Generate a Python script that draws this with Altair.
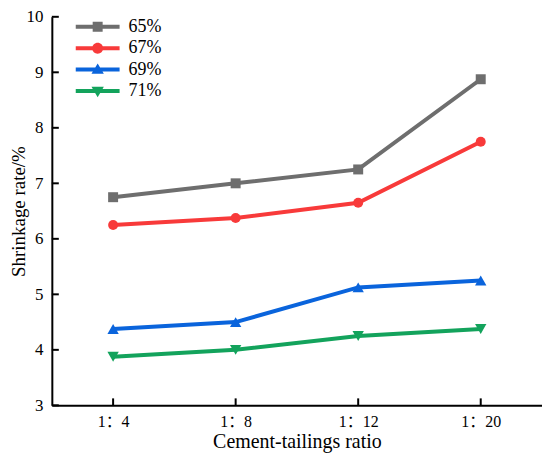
import altair as alt
import pandas as pd

ratios = ["1：4", "1：8", "1：12", "1：20"]
series = ["65%", "67%", "69%", "71%"]
v65 = [6.75, 7.0, 7.25, 8.875]
v67 = [6.25, 6.375, 6.65, 7.75]
v69 = [4.375, 4.5, 5.125, 5.25]
v71 = [3.875, 4.0, 4.25, 4.375]
y_ticks = [3, 4, 5, 6, 7, 8, 9, 10]

colors = ["#6e6e6e", "#f83a3a", "#0a64dc", "#13a35c"]
shapes = ["square", "circle", "triangle-up", "triangle-down"]

bar = "M-2.2,-0.2H2.2V0.2H-2.2Z "
legend_paths = [
    bar + "M-0.5,-0.5H0.5V0.5H-0.5Z",
    bar + "M-0.55,0A0.55,0.55 0 1,1 0.55,0A0.55,0.55 0 1,1 -0.55,0Z",
    bar + "M0,-0.62L0.62,0.42L-0.62,0.42Z",
    bar + "M0,0.62L-0.62,-0.42L0.62,-0.42Z",
]

rows = []
for name, vals in zip(series, [v65, v67, v69, v71]):
    for r, v in zip(ratios, vals):
        rows.append({"ratio": r, "series": name, "value": v})
df = pd.DataFrame(rows)
ticks_df = pd.DataFrame({"t": y_ticks})
cat_df = pd.DataFrame({"ratio": ratios})

FONT = "Liberation Serif, Times New Roman, Noto Sans CJK SC, serif"
W, H = 492, 390

x_enc = alt.X(
    "ratio:N",
    sort=ratios,
    scale=alt.Scale(type="point", padding=0.5, domain=ratios),
    axis=alt.Axis(
        title="Cement-tailings ratio",
        ticks=False,
        grid=False,
        domainColor="black",
        domainWidth=2,
        labelFont=FONT,
        labelFontSize=16,
        labelColor="black",
        labelPadding=8,
        titleFont=FONT,
        titleFontSize=20,
        titleFontWeight="normal",
        titleColor="black",
        titlePadding=2,
        labelAngle=0,
    ),
)
y_scale = alt.Scale(domain=[3, 10], nice=False, zero=False)
y_enc = alt.Y(
    "value:Q",
    scale=y_scale,
    axis=alt.Axis(
        title="Shrinkage rate/%",
        values=y_ticks,
        format="d",
        ticks=False,
        grid=False,
        domainColor="black",
        domainWidth=2,
        labelFont=FONT,
        labelFontSize=17,
        labelColor="black",
        labelPadding=9,
        titleFont=FONT,
        titleFontSize=19,
        titleFontWeight="normal",
        titleColor="black",
        titleX=-23,
    ),
)

line_layers = []
point_layers = []
for name, shp, col in zip(series, shapes, colors):
    sz = 100 if shp in ("square", "circle") else 130
    line_layers.append(
        alt.Chart(df)
        .transform_filter(alt.datum.series == name)
        .mark_line(strokeWidth=4, color=col)
        .encode(x=x_enc, y=y_enc)
    )
    point_layers.append(
        alt.Chart(df)
        .transform_filter(alt.datum.series == name)
        .mark_point(filled=True, shape=shp, size=sz, opacity=1, color=col)
        .encode(x="ratio:N", y="value:Q")
    )

leg = alt.Legend(
    title=None,
    orient="none",
    legendX=36,
    legendY=0,
    padding=0,
    symbolSize=400,
    symbolStrokeWidth=0,
    symbolOpacity=1,
    labelFont=FONT,
    labelFontSize=18,
    labelColor="black",
    labelOffset=21,
    rowPadding=2.5,
)

legend_layer = alt.Chart(df).mark_point(filled=True, opacity=0).encode(
    x="ratio:N",
    y="value:Q",
    color=alt.Color("series:N", scale=alt.Scale(domain=series, range=colors), legend=leg),
    shape=alt.Shape("series:N", scale=alt.Scale(domain=series, range=legend_paths), legend=leg),
)

xticks = alt.Chart(cat_df).mark_rule(color="black", strokeWidth=2).encode(
    x="ratio:N", y=alt.datum(3), y2=alt.value(H - 7)
)
yticks = alt.Chart(ticks_df).mark_rule(color="black", strokeWidth=2).encode(
    y=alt.Y("t:Q"), x=alt.value(0), x2=alt.value(7)
)

chart = (
    alt.layer(*line_layers, *point_layers, legend_layer, xticks, yticks)
    .properties(
        width=W,
        height=H,
        autosize=alt.AutoSizeParams(type="none"),
        padding={"left": 44, "top": 8, "right": 0, "bottom": 48},
    )
    .configure(background="white", font=FONT)
    .configure_view(stroke=None)
    .configure_axis(labelFont=FONT, titleFont=FONT)
    .configure_legend(labelFont=FONT)
)

chart.save("out.html", embed_options={"renderer": "svg", "actions": False})
